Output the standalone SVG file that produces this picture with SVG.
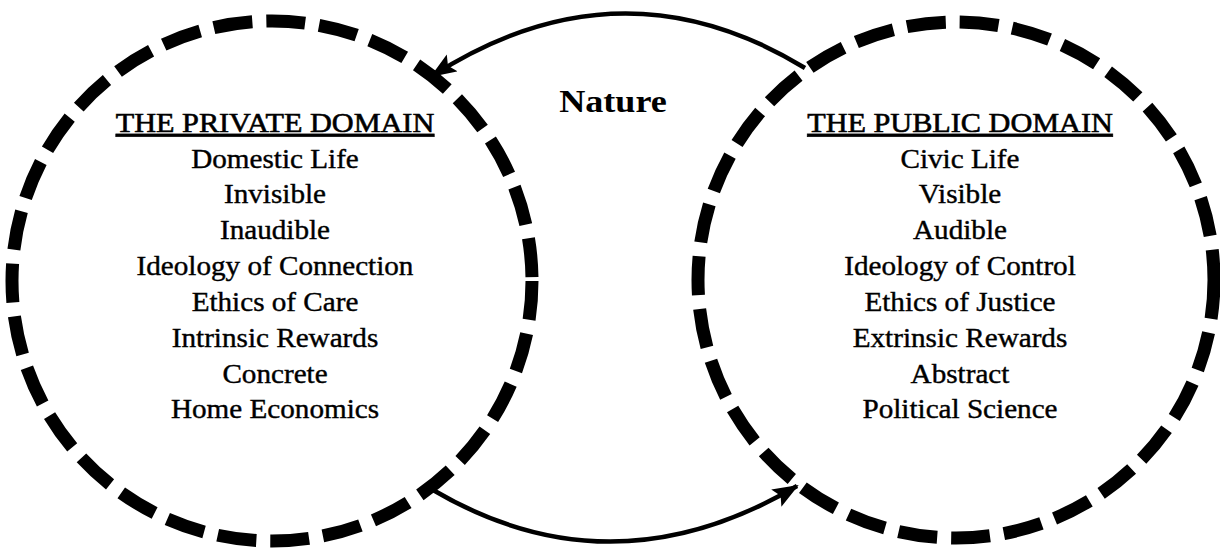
<svg xmlns="http://www.w3.org/2000/svg" width="1220" height="550" viewBox="0 0 1220 550">
<style>
.ring{fill:none;stroke:#000;stroke-width:13;stroke-dasharray:39 14}
.conn{fill:none;stroke:#000;stroke-width:4.5}
.t{font-family:"Liberation Serif","Times New Roman",serif;font-size:27px;text-anchor:middle;fill:#000;stroke:#000;stroke-width:0.4}
.h{font-size:28px;text-decoration:underline;stroke-width:0.6}
.n{font-family:"Liberation Serif","Times New Roman",serif;font-size:32px;font-weight:bold;text-anchor:middle;fill:#000}
</style>
<defs>
<marker id="ah" markerUnits="userSpaceOnUse" markerWidth="30" markerHeight="22" refX="24" refY="10" orient="auto">
<path d="M0,0 L26,10 L0,20 L5,10 z" fill="#000"/>
</marker>
</defs>
<rect width="1220" height="550" fill="#fff"/>
<g id="private-domain">
<circle class="ring" cx="272" cy="281" r="260"/>
<g transform="translate(275,0) scale(1.08,1)">
<text class="t h" x="0" y="132">THE PRIVATE DOMAIN</text>
<text class="t" x="0" y="168">Domestic Life</text>
<text class="t" x="0" y="203">Invisible</text>
<text class="t" x="0" y="239">Inaudible</text>
<text class="t" x="0" y="275">Ideology of Connection</text>
<text class="t" x="0" y="311">Ethics of Care</text>
<text class="t" x="0" y="347">Intrinsic Rewards</text>
<text class="t" x="0" y="383">Concrete</text>
<text class="t" x="0" y="418">Home Economics</text>
</g>
</g>
<g id="public-domain">
<circle class="ring" cx="956" cy="280" r="258"/>
<g transform="translate(960,0) scale(1.08,1)">
<text class="t h" x="0" y="132">THE PUBLIC DOMAIN</text>
<text class="t" x="0" y="168">Civic Life</text>
<text class="t" x="0" y="203">Visible</text>
<text class="t" x="0" y="239">Audible</text>
<text class="t" x="0" y="275">Ideology of Control</text>
<text class="t" x="0" y="311">Ethics of Justice</text>
<text class="t" x="0" y="347">Extrinsic Rewards</text>
<text class="t" x="0" y="383">Abstract</text>
<text class="t" x="0" y="418">Political Science</text>
</g>
</g>
<g id="nature">
<g transform="translate(613,0) scale(1.13,1)">
<text class="n" x="0" y="112">Nature</text>
</g>
</g>
<g id="connectors">
<path class="conn" d="M805,68 Q620,-45 432,76" marker-end="url(#ah)"/>
<path class="conn" d="M433,490 Q612,595 797,486" marker-end="url(#ah)"/>
</g>
</svg>
